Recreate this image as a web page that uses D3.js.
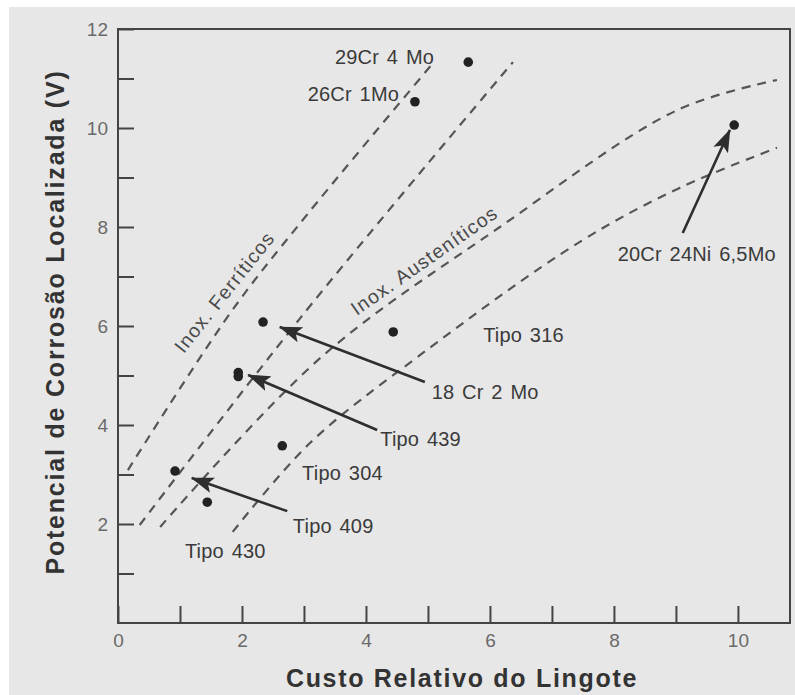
<!DOCTYPE html>
<html>
<head>
<meta charset="utf-8">
<script src="https://cdn.jsdelivr.net/npm/d3@7"></script>
<style>
  html, body { margin: 0; padding: 0; background: #fff; }
  svg { display: block; }
  text { font-family: "Liberation Sans", Arial, Helvetica, sans-serif; }
</style>
</head>
<body>
<svg id="chart" width="795" height="695"></svg>
<script>
// Localized corrosion potential versus relative ingot cost of stainless steels

// axis ticks
const xTickValues = [0, 1, 2, 3, 4, 5, 6, 7, 8, 9, 10];
const xTickLabels = [0, 2, 4, 6, 8, 10];
const yTickValues = [1, 2, 3, 4, 5, 6, 7, 8, 9, 10, 11, 12];
const yTickLabels = [2, 4, 6, 8, 10, 12];

// measured alloys (cost, potential)
const alloyNames = ["29Cr 4 Mo", "26Cr 1Mo", "20Cr 24Ni 6,5Mo", "18 Cr 2 Mo", "Tipo 316",
                    "Tipo 439", "Tipo 439", "Tipo 304", "Tipo 409", "Tipo 430"];
const alloyCost = [5.65, 4.79, 9.94, 2.34, 4.44, 1.94, 1.94, 2.65, 0.92, 1.44];
const alloyPotential = [11.33, 10.53, 10.06, 6.08, 5.88, 5.06, 4.98, 3.58, 3.07, 2.44];

// trend bands (cost, potential)
const ferriticUpper = [[0.16, 3.09], [1.81, 6.26], [2.94, 8.08], [5.06, 11.28]];
const ferriticLower = [[0.35, 1.98], [2.94, 6.16], [6.37, 11.33]];
const austeniticUpper = [[0.68, 1.94], [3.26, 5.35], [6.16, 8.00], [9.02, 10.36], [10.63, 10.97]];
const austeniticLower = [[1.85, 1.84], [3.10, 3.64], [4.87, 5.41], [7.45, 7.70], [9.06, 8.79], [10.63, 9.60]];
const bands = [ferriticUpper, ferriticLower, austeniticUpper, austeniticLower];

// pointer arrows: tail -> head (cost, potential)
const arrowTail = [[4.95, 4.87], [4.18, 3.90], [2.73, 2.26], [9.11, 7.88]];
const arrowHead = [[2.61, 5.98], [2.10, 5.01], [1.19, 2.93], [9.87, 9.96]];

// text annotations anchored in data units
const noteText = ["29Cr 4 Mo", "26Cr 1Mo", "20Cr 24Ni 6,5Mo", "18 Cr 2 Mo", "Tipo 316",
                  "Tipo 439", "Tipo 304", "Tipo 409", "Tipo 430"];
const noteCost = [3.50, 3.06, 8.06, 5.06, 5.89, 4.23, 2.97, 2.82, 1.08];
const notePotential = [11.29, 10.55, 7.31, 4.53, 5.68, 3.58, 2.89, 1.82, 1.31];

const bandText = ["Inox. Ferríticos", "Inox. Austeníticos"];
const bandTextCost = [1.06, 3.85];
const bandTextPotential = [5.43, 6.20];
const bandTextAngle = [-51.5, -35];

const xTitle = "Custo Relativo do Lingote";
const yTitle = "Potencial de Corrosão Localizada (V)";

// ---------------------------------------------------------------
const W = 795, H = 695;
const plotLeft = 118, plotRight = 790, plotTop = 29, plotBottom = 623;

const svg = d3.select("#chart");

svg.append("rect").attr("width", W).attr("height", H).attr("fill", "#ffffff");
svg.append("rect").attr("x", 9).attr("y", 7).attr("width", W - 9).attr("height", H - 7)
  .attr("fill", "#e7e7e7");

const x = d3.scaleLinear().domain([0, 10.84]).range([plotLeft, plotRight]);
const y = d3.scaleLinear().domain([0, 12]).range([plotBottom, plotTop]);

const ink = "#3a3a3a";

// arrowhead marker
svg.append("defs").append("marker")
  .attr("id", "head")
  .attr("markerUnits", "userSpaceOnUse")
  .attr("viewBox", "0 0 24 16")
  .attr("markerWidth", 24).attr("markerHeight", 16)
  .attr("refX", 22).attr("refY", 8)
  .attr("orient", "auto")
  .append("path")
  .attr("d", "M0,0 L23,8 L0,16 L5,8 Z")
  .attr("fill", "#2e2e2e");

// axes
const yAxis = d3.axisLeft(y)
  .tickValues(yTickValues)
  .tickSizeInner(-16).tickSizeOuter(0).tickPadding(10)
  .tickFormat(d => yTickLabels.includes(d) ? d : "");
const xAxis = d3.axisBottom(x)
  .tickValues(xTickValues)
  .tickSizeInner(-17).tickSizeOuter(0).tickPadding(11)
  .tickFormat(d => xTickLabels.includes(d) ? d : "");

const gy = svg.append("g").attr("transform", `translate(${plotLeft},0)`).call(yAxis);
const gx = svg.append("g").attr("transform", `translate(0,${plotBottom})`).call(xAxis);
[gx, gy].forEach(g => {
  g.select(".domain").remove();
  g.selectAll(".tick line").attr("stroke", "#444").attr("stroke-width", 2);
  g.selectAll(".tick text")
    .attr("fill", "#6a6a6a")
    .style("font-size", "19px")
    .style("font-family", "'Liberation Sans', Arial, sans-serif");
});

// frame
svg.append("path")
  .attr("d", `M${plotLeft},${plotTop} H${plotRight} V${plotBottom} H${plotLeft} Z`)
  .attr("stroke", "#444").attr("stroke-width", 2).attr("fill", "none");

// dashed bands
const line = d3.line()
  .x(d => x(d[0])).y(d => y(d[1]))
  .curve(d3.curveCatmullRom.alpha(0.5));
svg.append("g").selectAll("path").data(bands).join("path")
  .attr("d", line)
  .attr("fill", "none")
  .attr("stroke", "#555")
  .attr("stroke-width", 2.2)
  .attr("stroke-dasharray", "9,7");

// points
svg.append("g").selectAll("circle").data(alloyCost).join("circle")
  .attr("cx", d => x(d))
  .attr("cy", (d, i) => y(alloyPotential[i]))
  .attr("r", 4.8)
  .attr("fill", "#222");

// arrows
svg.append("g").selectAll("line").data(arrowTail).join("line")
  .attr("x1", d => x(d[0])).attr("y1", d => y(d[1]))
  .attr("x2", (d, i) => x(arrowHead[i][0])).attr("y2", (d, i) => y(arrowHead[i][1]))
  .attr("stroke", "#2e2e2e")
  .attr("stroke-width", 2.6)
  .attr("marker-end", "url(#head)");

// annotations
svg.append("g").selectAll("text").data(noteText).join("text")
  .attr("x", (d, i) => x(noteCost[i]))
  .attr("y", (d, i) => y(notePotential[i]))
  .attr("fill", ink)
  .style("font-size", "20px")
  .style("letter-spacing", "0.2px")
  .style("word-spacing", "2px")
  .text(d => d);

svg.append("g").selectAll("text").data(bandText).join("text")
  .attr("transform", (d, i) => `translate(${x(bandTextCost[i])},${y(bandTextPotential[i])}) rotate(${bandTextAngle[i]})`)
  .attr("fill", "#4a4a4a")
  .style("font-size", "19.5px")
  .style("letter-spacing", "1.2px")
  .text(d => d);

// axis titles
svg.append("text")
  .attr("x", 462).attr("y", 687)
  .attr("text-anchor", "middle")
  .attr("fill", "#333")
  .style("font-size", "25px").style("font-weight", "bold")
  .style("letter-spacing", "1.7px")
  .text(xTitle);

svg.append("text")
  .attr("transform", "translate(64,322) rotate(-90)")
  .attr("text-anchor", "middle")
  .attr("fill", "#333")
  .style("font-size", "25px").style("font-weight", "bold")
  .style("letter-spacing", "1.8px")
  .text(yTitle);
</script>
</body>
</html>
